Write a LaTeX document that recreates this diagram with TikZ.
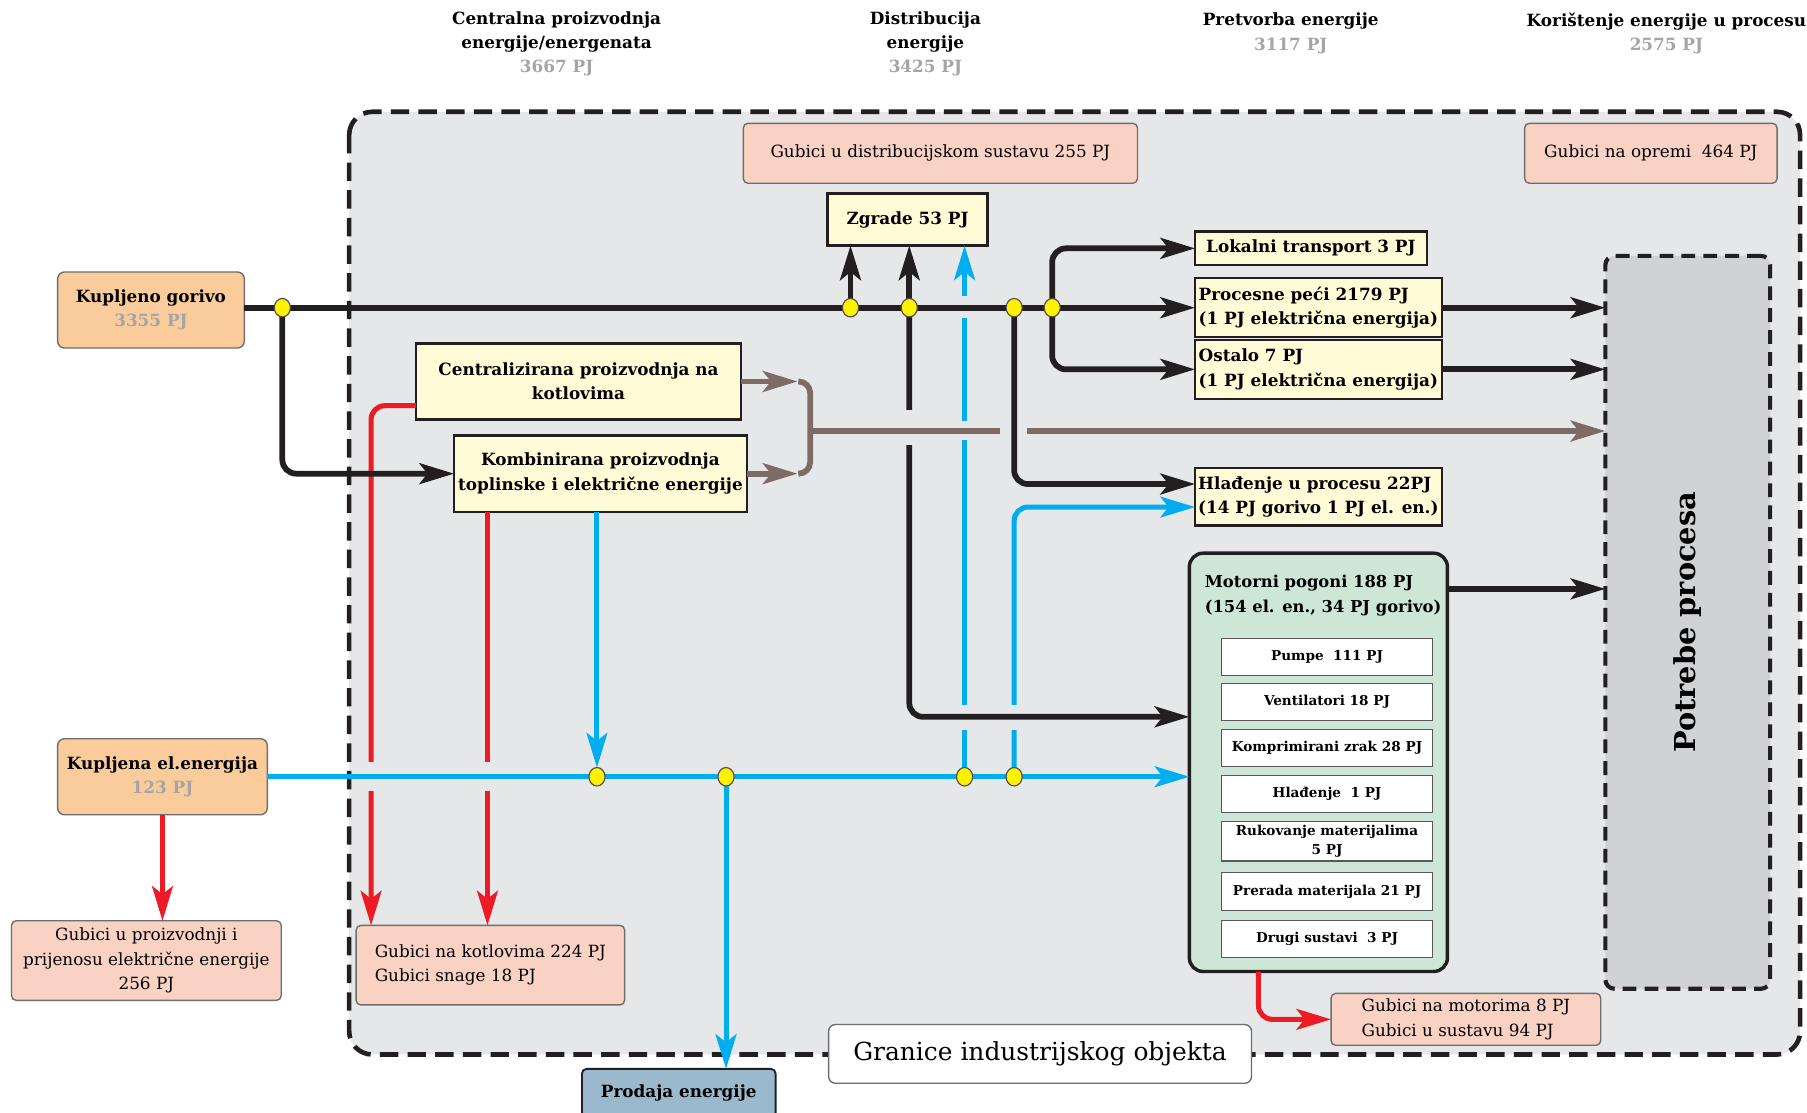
\documentclass[tikz,border=0pt]{standalone}
\usepackage{fontspec}
\setmainfont{DejaVu Serif}
\usetikzlibrary{arrows.meta,calc,shapes.geometric}
\definecolor{bgfill}{RGB}{230,231,232}
\definecolor{potgray}{RGB}{209,210,212}
\definecolor{ylw}{RGB}{255,251,214}
\definecolor{orng}{RGB}{251,204,155}
\definecolor{slmn}{RGB}{249,210,196}
\definecolor{grn}{RGB}{205,230,213}
\definecolor{prod}{RGB}{155,185,205}
\definecolor{blk}{RGB}{35,31,32}
\definecolor{blu}{RGB}{0,174,239}
\definecolor{rd}{RGB}{237,28,36}
\definecolor{brn}{RGB}{125,107,102}
\definecolor{numgray}{RGB}{165,165,165}
\definecolor{dotylw}{RGB}{255,242,0}
\definecolor{edgegray}{RGB}{110,110,110}
\newcommand\myfb{\bfseries\fontsize{7.3}{10.6}\selectfont}
\newcommand\myfr{\fontsize{7.3}{10.6}\selectfont}
\newcommand\myfs{\bfseries\fontsize{5.9}{8}\selectfont}
\tikzset{
  tip/.style={-{Stealth[length=15pt,width=9pt,inset=3.5pt]}},
  fuel/.style={draw=blk,line width=2.5pt},
  elec/.style={draw=blu,line width=2.2pt},
  loss/.style={draw=rd,line width=2.2pt},
  heat/.style={draw=brn,line width=2.5pt},
  bx/.style={inner sep=0pt,outer sep=0pt,align=center},
  ybox/.style={bx,draw=blk,fill=ylw,line width=1pt,font=\myfb},
  sbox/.style={bx,draw=edgegray,fill=slmn,line width=0.6pt,rounded corners=2pt,font=\myfr},
  obox/.style={bx,draw=edgegray,fill=orng,line width=0.6pt,rounded corners=3pt,font=\myfb},
  subbox/.style={bx,draw=blk!75,fill=white,line width=0.6pt,minimum width=91.5pt,minimum height=16pt,font=\myfs},
  ttl/.style={align=center,font=\myfb,inner sep=0pt},
  gap/.style={fill=bgfill,draw=none},
  jdot/.style={ellipse,fill=dotylw,draw=blk!80,line width=0.5pt,minimum width=7pt,minimum height=8pt,inner sep=0pt},
  bound/.style={draw=blk,line width=2pt,dash pattern=on 8pt off 4pt}
}
\begin{document}
\begin{tikzpicture}[x=0.5pt,y=-0.5pt]
\useasboundingbox (0,0) rectangle (1568,965);
\fill[white] (0,0) rectangle (1568,965);
% boundary
\draw[bound,fill=bgfill,rounded corners=10pt] (303,97) rectangle (1562,915);
% titles
\node[ttl] (t1) at (483,38) {Centralna proizvodnja\\energije/energenata\\\textcolor{numgray}{3667 PJ}};
\node[ttl] (t2) at (803,38) {Distribucija\\energije\\\textcolor{numgray}{3425 PJ}};
\node[ttl] (t3) at (1120,29) {Pretvorba energije\\\textcolor{numgray}{3117 PJ}};
\node[ttl] (t4) at (1446,29) {Korištenje energije u procesu\\\textcolor{numgray}{2575 PJ}};
% boxes
\node[sbox,minimum width=171pt,minimum height=26pt] (gds) at (816,133) {Gubici u distribucijskom sustavu 255 PJ};
\node[sbox,minimum width=109.5pt,minimum height=26pt] (gop) at (1432.5,133) {Gubici na opremi~~464 PJ};
\node[ybox,minimum width=69.5pt,minimum height=22.5pt] (zg) at (787.5,190.5) {Zgrade 53 PJ};
\node[obox,minimum width=81pt,minimum height=33pt] (kg) at (131,269) {Kupljeno gorivo\\\textcolor{numgray}{3355 PJ}};
\node[obox,minimum width=91pt,minimum height=33pt] (ke) at (141,674) {Kupljena el.energija\\\textcolor{numgray}{123 PJ}};
\node[sbox,minimum width=117pt,minimum height=34.5pt] (gp) at (127,833.5) {Gubici u proizvodnji i\\prijenosu električne energije\\256 PJ};
\node[sbox,minimum width=116.5pt,minimum height=34.5pt,align=left] (gk) at (425.5,837.5) {Gubici na kotlovima 224 PJ\\Gubici snage 18 PJ};
\node[ybox,minimum width=141pt,minimum height=33pt] (cp) at (502,331) {Centralizirana proizvodnja na\\kotlovima};
\node[ybox,minimum width=127pt,minimum height=33pt] (kp) at (521,411) {Kombinirana proizvodnja\\toplinske i električne energije};
\node[ybox,minimum width=100.5pt,minimum height=14.5pt] (lt) at (1137.5,215.5) {Lokalni transport 3 PJ};
\node[ybox,minimum width=107pt,minimum height=25.5pt,align=left] (pp) at (1144,267) {Procesne peći 2179 PJ\\(1 PJ električna energija)};
\node[ybox,minimum width=107pt,minimum height=25.5pt,align=left] (os) at (1144,320.5) {Ostalo 7 PJ\\(1 PJ električna energija)};
\node[ybox,minimum width=107pt,minimum height=25pt,align=left] (hp) at (1144,431) {Hlađenje u procesu 22PJ\\(14 PJ gorivo 1 PJ el. en.)};
\node[bx,draw=blk,fill=grn,line width=1.5pt,rounded corners=6pt,minimum width=112pt,minimum height=181.5pt] (mp) at (1144,661.5) {};
\node[font=\bfseries\fontsize{7.1}{10.6}\selectfont,align=left,anchor=north west,inner sep=0pt] (mpt) at ($(mp.north west)+(13,19)$) {Motorni pogoni 188 PJ\\(154 el. en., 34 PJ gorivo)};
\node[subbox] (mp1) at (1151.5,570) {Pumpe~~111 PJ};
\node[subbox] (mp2) at (1151.5,609) {Ventilatori 18 PJ};
\node[subbox] (mp3) at (1151.5,649) {Komprimirani zrak 28 PJ};
\node[subbox] (mp4) at (1151.5,689) {Hlađenje~~1 PJ};
\node[subbox,minimum height=17pt] (mp5) at (1151.5,730) {Rukovanje materijalima\\5 PJ};
\node[subbox,minimum height=16.5pt] (mp6) at (1151.5,773.5) {Prerada materijala 21 PJ};
\node[subbox] (mp7) at (1151.5,815) {Drugi sustavi~~3 PJ};
\node[sbox,minimum width=117pt,minimum height=22.5pt,align=left] (gm) at (1272,884.5) {Gubici na motorima 8 PJ\\Gubici u sustavu 94 PJ};
\node[bx,draw=blk,dash pattern=on 6pt off 3.5pt,line width=1.8pt,fill=potgray,rounded corners=4pt,minimum width=71.5pt,minimum height=318pt,
  label={[rotate=90,font=\bfseries\fontsize{12.5}{14}\selectfont]center:Potrebe procesa}] (po) at (1464.5,540) {};
\node[bx,draw=edgegray,fill=white,rounded corners=3pt,line width=0.6pt,minimum width=183.5pt,minimum height=25.5pt,font=\fontsize{10.8}{12}\selectfont] (gr) at (902.5,914.5) {Granice industrijskog objekta};
\node[bx,draw=blk,line width=0.8pt,fill=prod,rounded corners=2pt,minimum width=84pt,minimum height=21pt,font=\myfb] (pe) at (589,948.5) {Prodaja energije};
% junctions
\coordinate (d1) at (245,267);
\coordinate (d2) at (738,267);
\coordinate (d3) at (789,267);
\coordinate (d4) at (880,267);
\coordinate (d5) at (913,267);
\coordinate (e1) at (518,674);
\coordinate (e2) at (630,674);
\coordinate (e3) at (837,674);
\coordinate (e4) at (880,674);
\coordinate (hpA) at ($(hp.west)+(0,-11)$);
\coordinate (hpB) at ($(hp.west)+(0,9)$);
\coordinate (mpA) at ($(mp.north west)+(0,142)$);
\coordinate (mpB) at ($(mp.north east)+(0,31)$);
\coordinate (cpR) at ($(cp.west)+(0,21)$);
\coordinate (gkA) at ($(gk.north west)+(13,0)$);
\coordinate (gkB) at ($(gk.north west)+(114,0)$);
\coordinate (kpR) at ($(kp.south west)+(29,0)$);
\coordinate (mpR) at ($(mp.south west)+(60,0)$);
\coordinate (bc1) at ($(cp.east)+(49,0)$);
\coordinate (bc2) at ($(kp.east)+(44,0)$);
\coordinate (bcm) at ($(bc1)+(11,43)$);
% losses
\draw[loss,tip,rounded corners=6pt] (cpR) -| (gkA);
\draw[loss,tip] (kpR) -- (gkB);
\draw[loss,tip] (ke.south) -- (ke.south |- gp.north);
\draw[loss,tip,rounded corners=6pt] (mpR) |- (gm.west);
\fill[gap] (315,661) rectangle (329,686);
\fill[gap] (416,661) rectangle (430,686);
% electricity
\draw[elec,tip] (ke.east) -- (ke.east -| mp.west);
\draw[elec,tip] (kp.south -| e1) -- ([yshift=4pt]e1);
\draw[elec,tip] (e2) -- (e2 |- pe.north);
\draw[elec,tip] (e3) -- (e3 |- zg.south);
\draw[elec,tip,rounded corners=6pt] (e4) |- (hpB);
\fill[gap] (829,257) rectangle (845,276);
\fill[gap] (829,365) rectangle (845,382);
\fill[gap] (829,612) rectangle (845,633);
\fill[gap] (872,612) rectangle (888,633);
% fuel
\draw[fuel,tip] (kg.east |- d1) -- (pp.west);
\draw[fuel,tip,rounded corners=6pt] (d1) |- (kp.west);
\draw[fuel,tip] (d2) -- (d2 |- zg.south);
\draw[fuel,tip] (d3) -- (d3 |- zg.south);
\draw[fuel,tip,rounded corners=6pt] (d3) |- (mpA);
\draw[fuel,tip,rounded corners=6pt] (d5) |- (lt.west);
\draw[fuel,tip,rounded corners=6pt] (d5) |- (os.west);
\draw[fuel,tip] (pp.east) -- (pp.east -| po.west);
\draw[fuel,tip] (os.east) -- (os.east -| po.west);
\draw[fuel,tip] (mpB) -- (mpB -| po.west);
\fill[gap] (781,356) rectangle (797,386);
% heat
\draw[heat,tip] (cp.east) -- (bc1);
\draw[heat,tip] (kp.east) -- (bc2);
\draw[heat,rounded corners=5pt] ($(bc1)+(2,0)$) -- ($(bc1)+(11,0)$) -- ($(bc2)+(11,0)$) -- ($(bc2)+(2,0)$);
\draw[heat,tip] (bcm) -- (bcm -| po.west);
\fill[gap] (868,365) rectangle (891,381);
\draw[fuel,tip,rounded corners=6pt] (d4) |- (hpA);
% dots
\foreach \p in {d1,d2,d3,d4,d5,e1,e2,e3,e4} \node[jdot] (n\p) at (\p) {};
\end{tikzpicture}
\end{document}
